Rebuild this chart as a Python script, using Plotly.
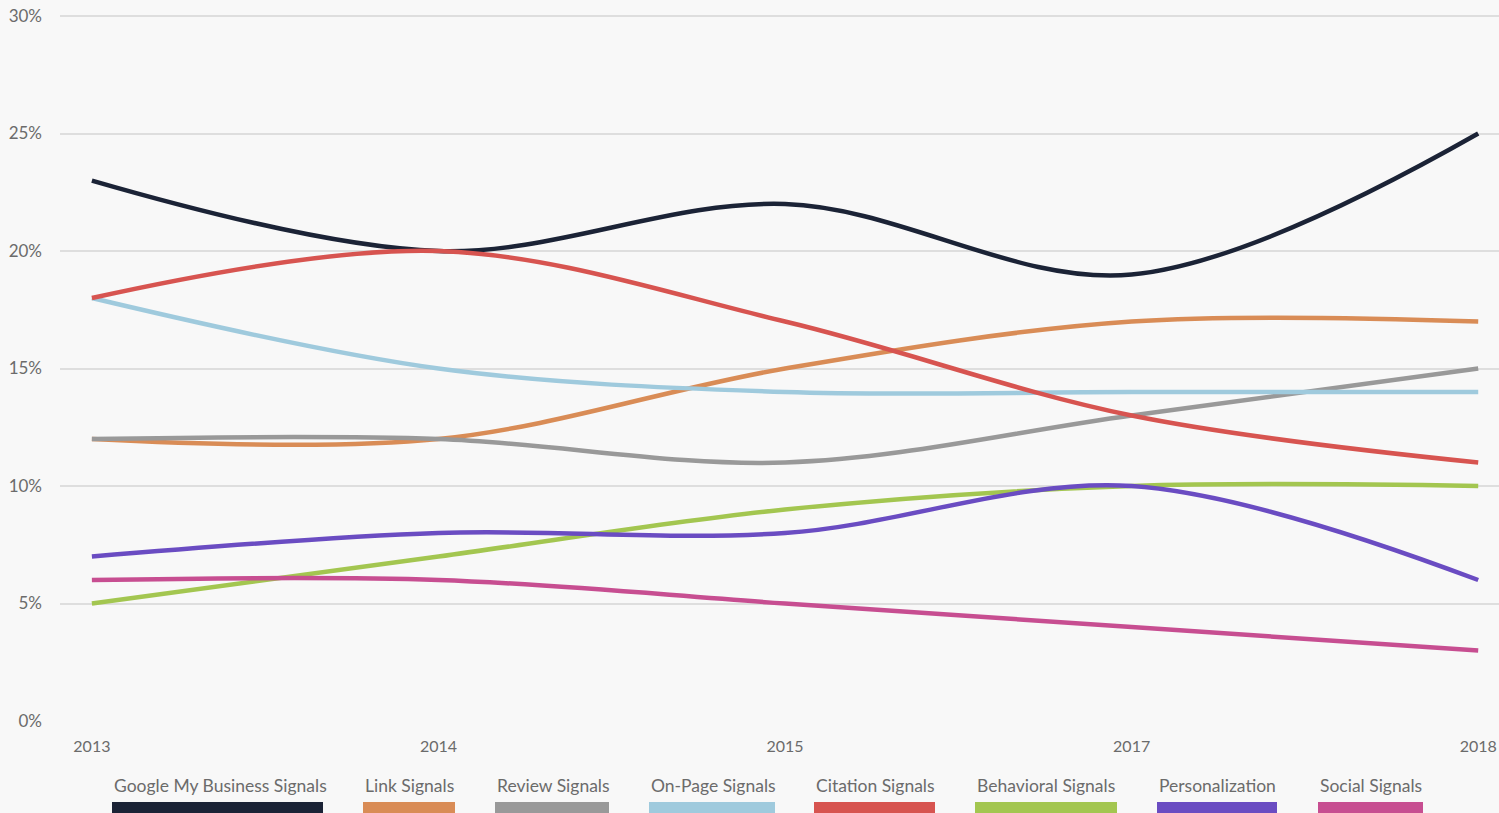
import plotly.graph_objects as go

years = ["2013", "2014", "2015", "2017", "2018"]
series_names = ["Google My Business Signals", "Link Signals", "Review Signals", "On-Page Signals",
                "Citation Signals", "Behavioral Signals", "Personalization", "Social Signals"]
gmb = [23, 20, 22, 19, 25]
link = [12, 12, 15, 17, 17]
review = [12, 12, 11, 13, 15]
onpage = [18, 15, 14, 14, 14]
citation = [18, 20, 17, 13, 11]
behavioral = [5, 7, 9, 10, 10]
personalization = [7, 8, 8, 10, 6]
social = [6, 6, 5, 4, 3]
y_ticks = [0, 5, 10, 15, 20, 25, 30]
y_tick_labels = ["0%", "5%", "10%", "15%", "20%", "25%", "30%"]

colors = ["#1b2336", "#d98c56", "#999999", "#9fcadd", "#d75450", "#a3c650", "#6a4cc2", "#c74e91"]
values = [gmb, link, review, onpage, citation, behavioral, personalization, social]

BG = "#f8f8f8"
FONT = "Lato"

fig = go.Figure()
for name, vals, col in zip(series_names, values, colors):
    fig.add_trace(go.Scatter(x=years, y=vals, name=name, mode="lines",
                             line=dict(color=col, width=4.5, shape="spline", smoothing=1.0),
                             showlegend=False))

W, H = 1499, 813
ml, mr, mt, mb = 60, 0, 9, 92
pw = W - ml - mr
ph = H - mt - mb

# custom legend: label above a thick colour bar
legend_px = [(112, 323), (363, 455), (495, 609), (649, 775), (814, 935), (975, 1117), (1157, 1277), (1318, 1423)]
shapes = []
annotations = []
for (x0, x1), name, col in zip(legend_px, series_names, colors):
    px0 = (x0 - ml) / pw
    px1 = (x1 - ml) / pw
    annotations.append(dict(x=px0, y=-(786 - (H - mb)) / ph, xref="paper", yref="paper",
                            text=name, showarrow=False, xanchor="left", yanchor="middle",
                            font=dict(family=FONT, size=17.5, color="#6b6b6b")))
    shapes.append(dict(type="rect", xref="paper", yref="paper",
                       x0=px0, x1=px1, y0=-(802 - (H - mb)) / ph, y1=-(820 - (H - mb)) / ph,
                       fillcolor=col, line=dict(width=0), layer="above"))

fig.update_layout(
    width=W, height=H,
    margin=dict(l=ml, r=mr, t=mt, b=mb),
    paper_bgcolor=BG, plot_bgcolor=BG,
    font=dict(family=FONT, color="#6b6b6b"),
    shapes=shapes, annotations=annotations,
    xaxis=dict(type="category", range=[-0.092, 4.06], showgrid=False, zeroline=False,
               showline=True, linecolor=BG, linewidth=3,
               tickfont=dict(size=16, color="#6b6b6b"), ticks="", ticklabelstandoff=9),
    yaxis=dict(range=[0, 30.3], tickvals=y_ticks, ticktext=y_tick_labels, showgrid=True,
               gridcolor="#dedede", gridwidth=1.5, zeroline=False,
               tickfont=dict(size=17, color="#6b6b6b"), ticks="", ticklabelstandoff=17),
)

fig.write_html("out.html", config={"displayModeBar": False},
               post_script="document.body.style.margin='0';document.body.style.background='#f8f8f8';document.body.style.overflow='hidden';")
